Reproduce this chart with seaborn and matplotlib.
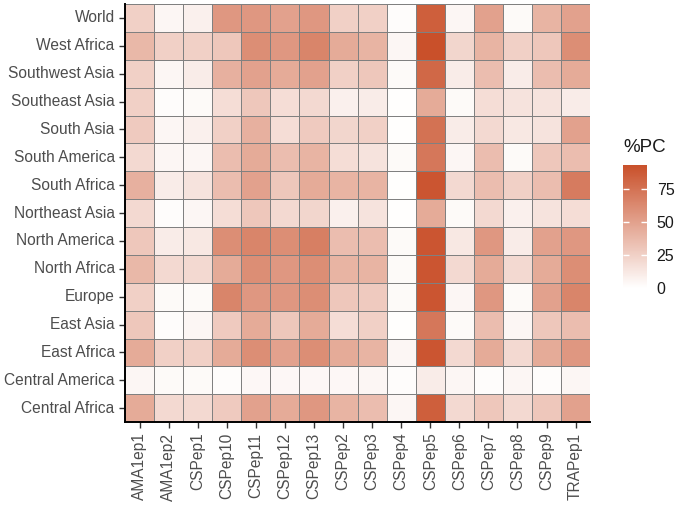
import numpy as np
import pandas as pd
import matplotlib
matplotlib.use("Agg")
import matplotlib.pyplot as plt
import seaborn as sns
from matplotlib.colors import LinearSegmentedColormap

regions = ["World", "West Africa", "Southwest Asia", "Southeast Asia", "South Asia",
           "South America", "South Africa", "Northeast Asia", "North America",
           "North Africa", "Europe", "East Asia", "East Africa", "Central America",
           "Central Africa"]
epitopes = ["AMA1ep1", "AMA1ep2", "CSPep1", "CSPep10", "CSPep11", "CSPep12", "CSPep13",
            "CSPep2", "CSPep3", "CSPep4", "CSPep5", "CSPep6", "CSPep7", "CSPep8",
            "CSPep9", "TRAPep1"]

# %PC per region (rows) and epitope (columns)
pc_world = [25, 5, 8, 55, 55, 50, 55, 25, 25, 2, 85, 5, 50, 3, 40, 50]
pc_west_africa = [38, 25, 25, 30, 60, 55, 65, 45, 40, 5, 93, 22, 40, 25, 30, 60]
pc_southwest_asia = [25, 5, 10, 42, 50, 45, 50, 25, 30, 3, 80, 10, 35, 10, 35, 45]
pc_southeast_asia = [25, 2, 3, 18, 30, 18, 20, 8, 10, 1, 45, 3, 18, 15, 15, 10]
pc_south_asia = [28, 5, 8, 25, 42, 18, 28, 22, 25, 1, 75, 10, 20, 12, 15, 50]
pc_south_america = [20, 5, 5, 35, 45, 35, 40, 18, 15, 3, 72, 5, 35, 3, 30, 35]
pc_south_africa = [42, 10, 15, 35, 50, 30, 45, 40, 40, 1, 90, 20, 35, 25, 35, 70]
pc_northeast_asia = [20, 2, 5, 18, 30, 20, 22, 8, 15, 1, 45, 3, 20, 8, 15, 18]
pc_north_america = [30, 10, 12, 60, 65, 60, 68, 35, 35, 3, 90, 12, 55, 10, 50, 55]
pc_north_africa = [38, 20, 20, 45, 60, 55, 60, 40, 40, 3, 90, 20, 45, 20, 45, 60]
pc_europe = [25, 3, 3, 65, 55, 55, 60, 30, 28, 3, 90, 5, 55, 3, 50, 65]
pc_east_asia = [30, 2, 5, 28, 45, 30, 45, 18, 25, 1, 72, 3, 35, 5, 30, 35]
pc_east_africa = [45, 25, 25, 45, 60, 50, 60, 45, 40, 5, 90, 20, 45, 20, 45, 55]
pc_central_america = [5, 3, 3, 2, 4, 4, 4, 4, 5, 2, 10, 5, 2, 5, 2, 5]
pc_central_africa = [45, 20, 20, 28, 50, 45, 55, 40, 35, 5, 85, 20, 30, 20, 30, 50]

cbar_ticks = [0, 25, 50, 75]

rows = [pc_world, pc_west_africa, pc_southwest_asia, pc_southeast_asia, pc_south_asia,
        pc_south_america, pc_south_africa, pc_northeast_asia, pc_north_america,
        pc_north_africa, pc_europe, pc_east_asia, pc_east_africa, pc_central_america,
        pc_central_africa]
df = pd.DataFrame(rows, index=regions, columns=epitopes)

plt.rcParams['font.family'] = ['Liberation Sans', 'DejaVu Sans']

cmap = LinearSegmentedColormap.from_list("pc", ["#FFFFFF", "#C9502A"])

fig = plt.figure(figsize=(6.76, 5.05), dpi=100)
ax = fig.add_axes([0.185, 0.164, 0.688, 0.828])
cax = fig.add_axes([0.9216, 0.4297, 0.0355, 0.2436])

sns.heatmap(df, ax=ax, cbar_ax=cax, cmap=cmap, vmin=0, vmax=93,
            linewidths=0.6, linecolor="#808080", cbar_kws={"ticks": cbar_ticks})

# 軸の見た目 (ggplot classic風)
ax.tick_params(axis="both", length=4, width=1, color="#333333",
               labelcolor="#4D4D4D", labelsize=11.2)
ax.set_xticklabels(epitopes, rotation=90, va="top", ha="center")
ax.set_yticklabels(regions, rotation=0)
ax.set_xlabel("")
ax.set_ylabel("")
for side in ["left", "bottom"]:
    ax.spines[side].set_visible(True)
    ax.spines[side].set_linewidth(1.4)
    ax.spines[side].set_color("black")

# カラーバー
cbar = ax.collections[0].colorbar
cbar.outline.set_visible(False)
cax.tick_params(direction="in", length=4, width=1, color="white", left=True, right=True,
                labelcolor="#1A1A1A", labelsize=11.5, pad=7)
cax.set_title("%PC", fontsize=13.5, color="#1A1A1A", pad=9, loc="left")

fig.savefig("out.png", dpi=100)
